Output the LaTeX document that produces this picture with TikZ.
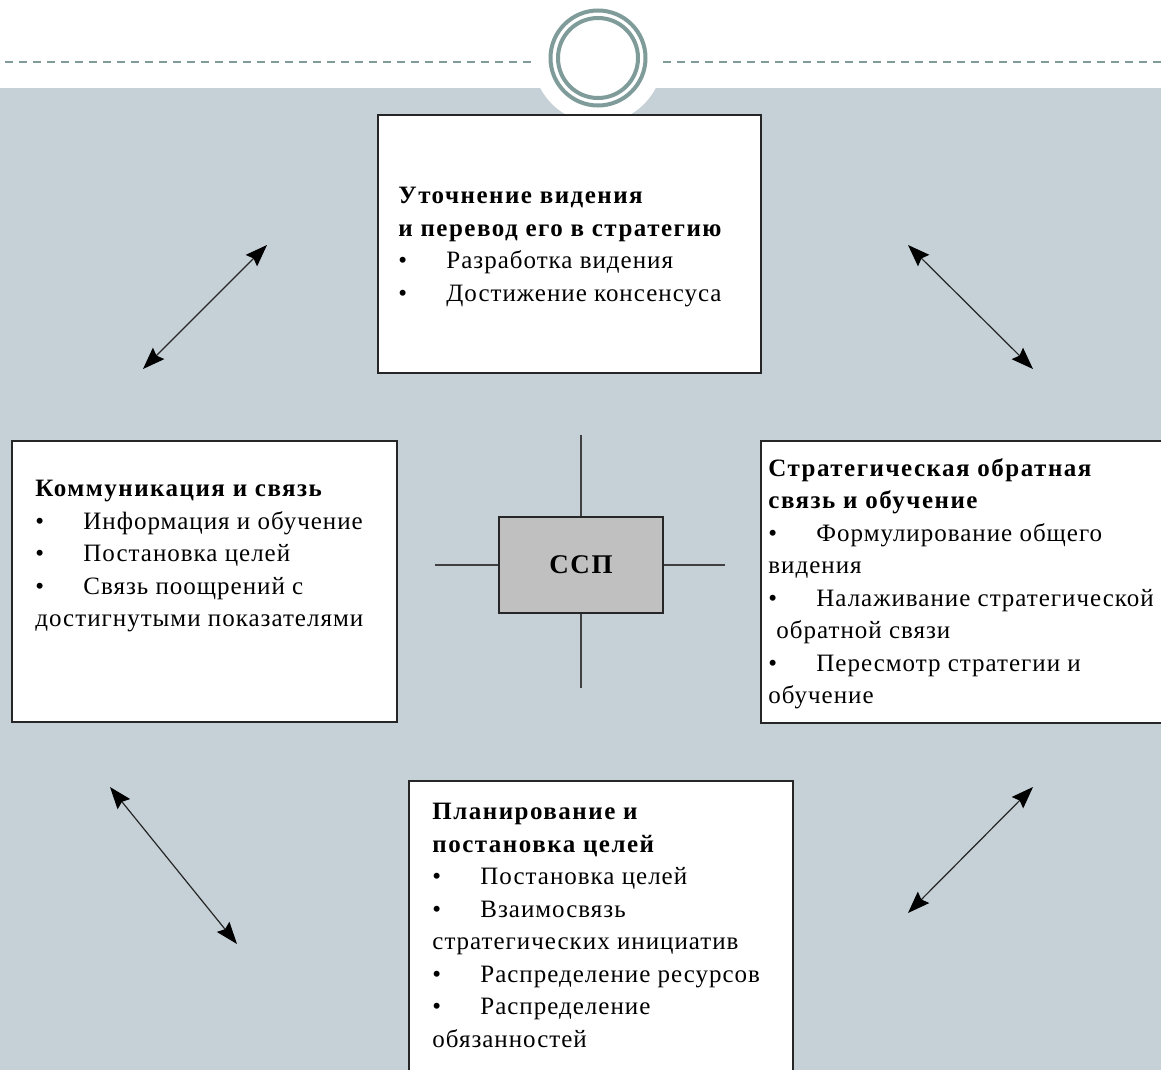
\documentclass[tikz,border=0pt]{standalone}
\usepackage{fontspec}
\setmainfont{Liberation Serif}[LetterSpace=4, BoldFeatures={LetterSpace=6}]
\usepackage{tikz}
\usetikzlibrary{arrows.meta}
\definecolor{slidebg}{HTML}{C5D1D7}
\definecolor{ringcol}{HTML}{7F9C9A}
\definecolor{sspfill}{HTML}{C0C0C0}
\tikzset{
  panel/.style={draw=black!85, fill=white, line width=0.75pt, rectangle, inner sep=0pt},
  panetext/.style={anchor=north west, inner sep=0pt, align=left,
    font=\fontsize{12.5pt}{16.25pt}\selectfont},
  twoway/.style={line width=0.6pt, black!85,
    {Stealth[length=11pt,width=8pt,inset=1.5pt,black]}-{Stealth[length=11pt,width=8pt,inset=1.5pt,black]}},
  crossline/.style={line width=1pt, black!75}
}
\newcommand\bul{\makebox[24pt][l]{\textbullet}}

\begin{document}
\begin{tikzpicture}[x=0.5pt,y=-0.5pt]
      \useasboundingbox (0,0) rectangle (1161,1070);
      \clip (0,0) rectangle (1161,1070);
      % slide background
      \fill[white] (0,0) rectangle (1161,1070);
      \fill[slidebg] (0,88) rectangle (1161,1070);
      \fill[white] (598,58) circle[radius=32.5pt];
      \draw[ringcol, line width=1pt, dash pattern=on 4pt off 3pt] (5,62) -- (535,62);
      \draw[ringcol, line width=1pt, dash pattern=on 4pt off 3pt] (663,62) -- (1161,62);
      \draw[ringcol, line width=2pt] (598,58) circle[radius=23.75pt];
      \draw[ringcol, line width=2pt] (598,58) circle[radius=20pt];
      % the four panels
      \node[panel, minimum width=191.5pt, minimum height=129pt] (vision) at (569.5,244) {};
      \node[panel, minimum width=192.5pt, minimum height=140.5pt] (comm) at (204.5,581.5) {};
      \node[panel, minimum width=204.5pt, minimum height=141pt] (feedback) at (965.5,582) {};
      \node[panel, minimum width=192pt, minimum height=149.5pt] (plan) at (601,930.5) {};
      \node[panetext] (visionT) at (398,187) {\textbf{Уточнение видения}\\
        \textbf{и перевод его в стратегию}\\
        \bul Разработка видения\\
        \bul Достижение консенсуса};
      \node[panetext] (commT) at (35,480) {\textbf{Коммуникация и связь}\\
        \bul Информация и обучение\\
        \bul Постановка целей\\
        \bul Связь поощрений с\\
        достигнутыми показателями};
      \node[panetext] (feedbackT) at (768,458) {\textbf{Стратегическая обратная}\\
        \textbf{связь и обучение}\\
        \bul Формулирование общего\\
        видения\\
        \bul Налаживание стратегической\\
        \hspace{4pt}обратной связи\\
        \bul Пересмотр стратегии и\\
        обучение};
      \node[panetext] (planT) at (432,803) {\textbf{Планирование и}\\
        \textbf{постановка целей}\\
        \bul Постановка целей\\
        \bul Взаимосвязь\\
        стратегических инициатив\\
        \bul Распределение ресурсов\\
        \bul Распределение\\
        обязанностей};
      % centre
      \node[panel, fill=sspfill, minimum width=82pt, minimum height=48pt,
        font=\fontsize{13.5pt}{16pt}\selectfont\bfseries] (ssp) at (581,565) {ССП};
      \coordinate (crossN) at (581,435);
      \coordinate (crossS) at (581,688);
      \coordinate (crossW) at (435,565);
      \coordinate (crossE) at (725,565);
      \draw[crossline] (ssp) -- (crossN);
      \draw[crossline] (ssp) -- (crossS);
      \draw[crossline] (ssp) -- (crossW);
      \draw[crossline] (ssp) -- (crossE);
      % double arrows
      \coordinate (tlA) at (143,369);
      \coordinate (tlB) at (267,245);
      \coordinate (trA) at (908,245);
      \coordinate (trB) at (1033,369);
      \coordinate (blA) at (110,787);
      \coordinate (blB) at (237,944);
      \coordinate (brA) at (1033,787);
      \coordinate (brB) at (908,913);
      \draw[twoway] (tlA) -- (tlB);
      \draw[twoway] (trA) -- (trB);
      \draw[twoway] (blA) -- (blB);
      \draw[twoway] (brA) -- (brB);
    \end{tikzpicture}
\end{document}
